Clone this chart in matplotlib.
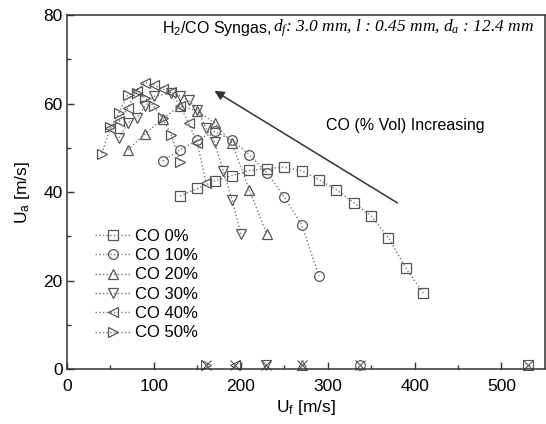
#!/usr/bin/env python3
"""Blow-off air velocity vs fuel velocity for H2/CO syngas flames."""

import matplotlib
matplotlib.use('Agg')
import matplotlib.pyplot as plt

plt.rcParams['font.family'] = ['Liberation Sans', 'DejaVu Sans']
plt.rcParams['mathtext.fontset'] = 'custom'
plt.rcParams['mathtext.rm'] = 'Liberation Sans'
plt.rcParams['mathtext.it'] = 'Liberation Serif:italic'

# CO 0 %
uf_co0 = [130, 150, 170, 190, 210, 230, 250, 270, 290, 310, 330, 350, 370, 390, 410]
ua_co0 = [39.1, 40.8, 42.5, 43.7, 44.9, 45.3, 45.6, 44.8, 42.8, 40.5, 37.6, 34.6, 29.7, 22.8, 17.1]
# CO 10 %
uf_co10 = [110, 130, 150, 170, 190, 210, 230, 250, 270, 290]
ua_co10 = [47.0, 49.5, 51.7, 53.7, 51.7, 48.4, 44.4, 38.9, 32.6, 21.0]
# CO 20 %
uf_co20 = [70, 90, 110, 130, 150, 170, 190, 210, 230]
ua_co20 = [49.5, 53.2, 56.5, 59.5, 58.3, 55.6, 51.0, 40.4, 30.5]
# CO 30 %
uf_co30 = [60, 70, 80, 90, 100, 120, 130, 140, 150, 160, 170, 180, 190, 200]
ua_co30 = [52.2, 55.6, 56.7, 59.4, 61.6, 62.4, 61.7, 60.7, 58.6, 54.4, 51.2, 44.7, 38.3, 30.5]
# CO 40 %
uf_co40 = [50, 60, 70, 80, 90, 100, 110, 120, 130, 140, 150, 160]
ua_co40 = [54.4, 56.0, 59.0, 62.8, 64.7, 64.2, 63.3, 62.5, 59.5, 55.6, 51.0, 42.1]
# CO 50 %
uf_co50 = [40, 50, 60, 70, 80, 90, 100, 110, 120, 130]
ua_co50 = [48.7, 54.6, 57.9, 62.0, 62.3, 61.3, 59.4, 56.7, 52.9, 46.8]

labels = ['CO 0%', 'CO 10%', 'CO 20%', 'CO 30%', 'CO 40%', 'CO 50%']
markers = ['s', 'o', '^', 'v', '<', '>']

# crossed markers sitting on the x axis
uf_cross = [530, 337, 271, 229.5, 193, 160.5]
ua_cross = [1.0, 1.0, 1.0, 1.0, 1.0, 1.0]

series = [(uf_co0, ua_co0), (uf_co10, ua_co10), (uf_co20, ua_co20),
          (uf_co30, ua_co30), (uf_co40, ua_co40), (uf_co50, ua_co50)]

fig = plt.figure(figsize=(5.46, 4.24), dpi=100)
ax = fig.add_axes([0.1227, 0.1297, 0.8753, 0.8349])

edge = '#555555'
for (x, y), lab, m in zip(series, labels, markers):
    ax.plot(x, y, linestyle=':', color='#777777', linewidth=1.0,
            marker=m, markersize=7, markerfacecolor='none',
            markeredgecolor=edge, markeredgewidth=0.9, label=lab)

for xc, yc, m in zip(uf_cross, ua_cross, markers):
    ax.plot([xc], [yc], linestyle='none', marker=m, markersize=7,
            markerfacecolor='none', markeredgecolor=edge,
            markeredgewidth=0.8, clip_on=False)
    ax.plot([xc], [yc], linestyle='none', marker='x', markersize=7,
            color=edge, markeredgewidth=0.8, clip_on=False)

ax.set_xlim(0, 550)
ax.set_ylim(0, 80)
ax.set_xticks([0, 100, 200, 300, 400, 500])
ax.set_xticks([50, 150, 250, 350, 450], minor=True)
ax.set_yticks([0, 20, 40, 60, 80])
ax.set_yticks([10, 30, 50, 70], minor=True)
ax.tick_params(which='both', direction='in', top=False, right=False,
               labelsize=12.5, color='#333333', width=1.0)
ax.tick_params(which='major', length=5)
ax.tick_params(which='minor', length=3)
ax.tick_params(axis='x', which='major', pad=7)
ax.tick_params(axis='y', which='major', pad=3)
for sp in ax.spines.values():
    sp.set_linewidth(1.1)
    sp.set_color('#333333')

ax.set_xlabel(r'U$_\mathrm{f}$ [m/s]', fontsize=12.5, labelpad=3)
ax.set_ylabel(r'U$_\mathrm{a}$ [m/s]', fontsize=12.5, labelpad=8)

# condition text in the top right corner
cond = ax.text(538, 77, r'$d_f$: 3.0 mm, $l$ : 0.45 mm, $d_a$ : 12.4 mm',
               ha='right', va='center', fontsize=12.5,
               family='Liberation Serif', style='italic')
ax.annotate(r'H$_\mathrm{2}$/CO Syngas, ', xy=(0, 0.5), xycoords=cond,
            ha='right', va='center', fontsize=11.5)

ax.annotate('', xy=(167, 63.2), xytext=(383, 37.2),
            arrowprops=dict(arrowstyle='-|>', color='#333333', lw=1.1,
                            mutation_scale=14))
ax.text(298, 55, 'CO (% Vol) Increasing', fontsize=11.5, ha='left', va='center')

ax.legend(loc='upper left', bbox_to_anchor=(0.035, 0.429), frameon=False,
          fontsize=12, handlelength=2.1, handletextpad=0.3,
          labelspacing=0.26, borderpad=0.2)

fig.savefig('out.png', dpi=100)
